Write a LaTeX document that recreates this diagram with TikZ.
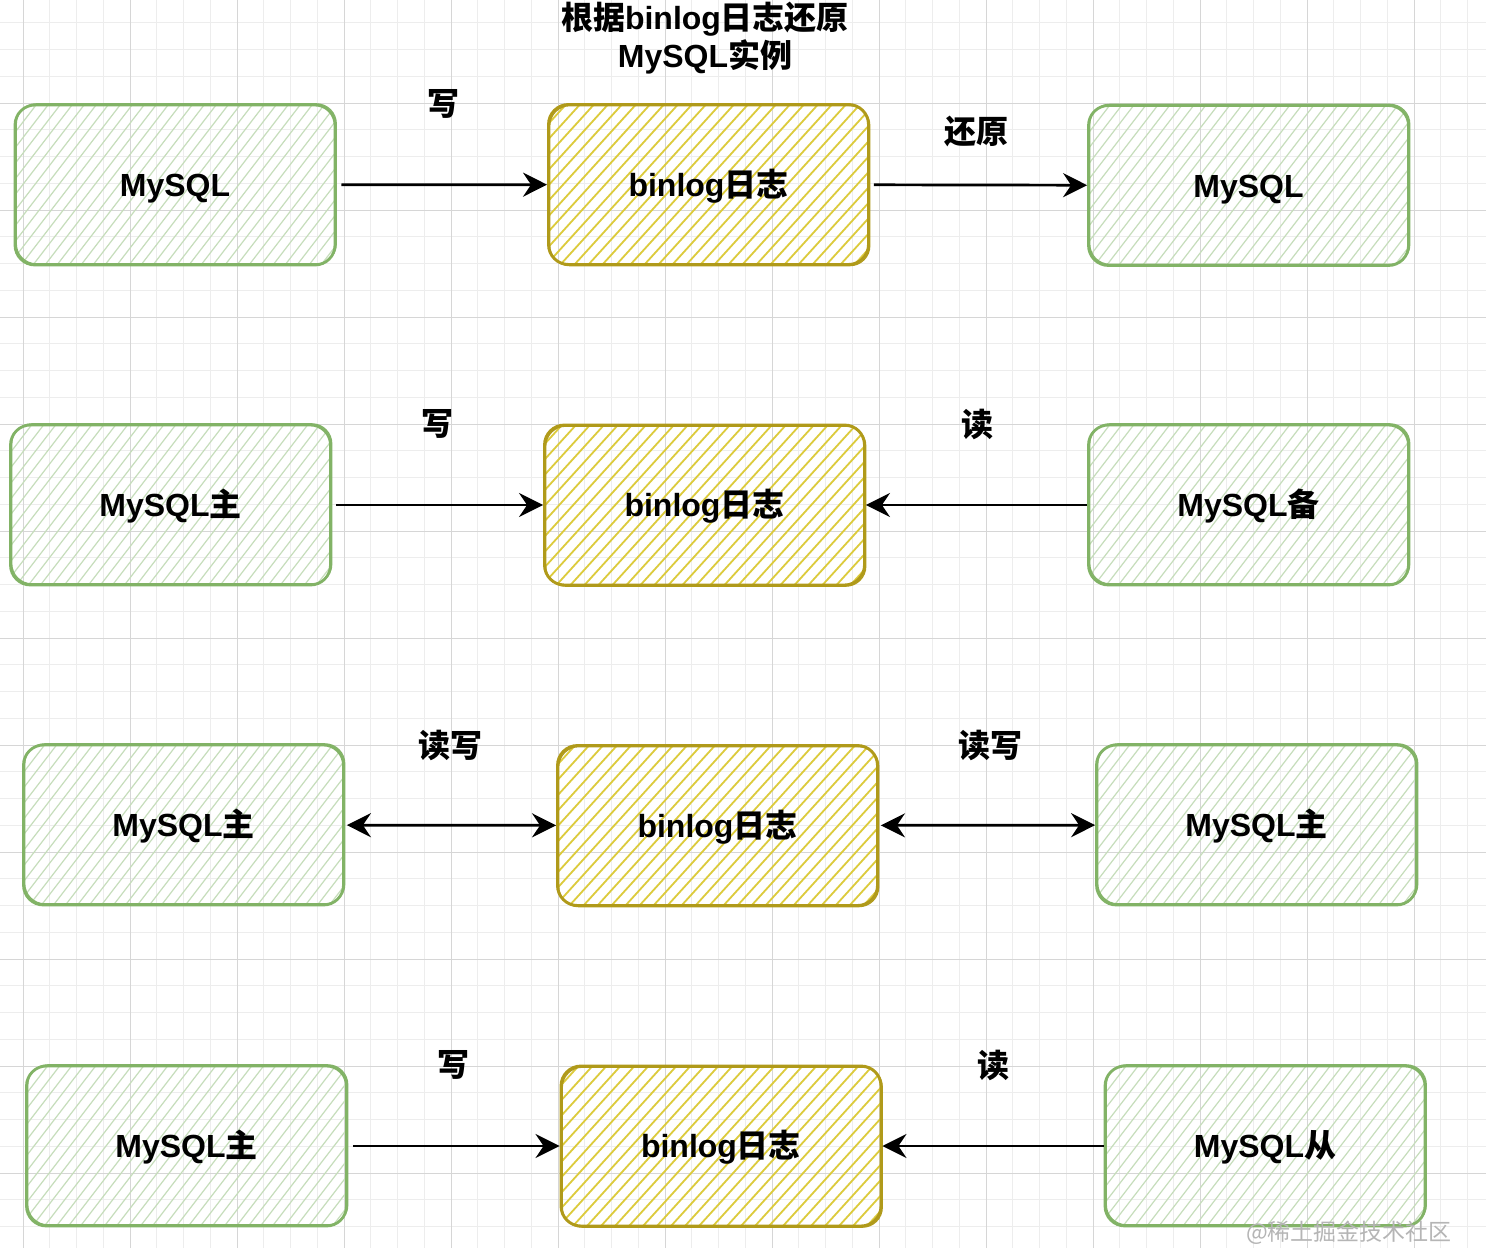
\documentclass[tikz,border=0pt]{standalone}
\usepackage{fontspec}
\setmainfont{Liberation Sans}
\newfontfamily\cjk{Noto Sans CJK SC}
\usetikzlibrary{arrows.meta}
\newcommand\zh[1]{{\cjk #1}}
\definecolor{gstroke}{HTML}{82B366}
\definecolor{ghatch}{HTML}{C6DDBB}
\definecolor{ystroke}{HTML}{B09A1A}
\definecolor{yhatch}{HTML}{DCCB3C}
\definecolor{gridmajor}{HTML}{D6D6D6}
\definecolor{gridminor}{HTML}{EDEDED}
\definecolor{wmark}{HTML}{B5B5B5}
\tikzset{
  gbox/.style={draw=gstroke, line width=2.8pt, rounded corners=20pt,
    minimum width=320pt, minimum height=160pt, inner sep=0pt,
    text height=26pt, text depth=3pt,
    font=\fontsize{32}{38}\selectfont\bfseries,
    postaction={draw=gstroke, line width=1.2pt, transform canvas={shift={(1.3pt,1.2pt)}}},
    path picture={
      \foreach \k in {0,...,42}{
        \draw[ghatch, line width=1.2pt]
          ([xshift={\k*12pt-150pt}]path picture bounding box.south west) -- ++(140,-182);
      }}},
  ybox/.style={draw=ystroke, line width=2.9pt, rounded corners=20pt,
    minimum width=320pt, minimum height=160pt, inner sep=0pt,
    text height=26pt, text depth=3pt,
    font=\fontsize{32}{38}\selectfont\bfseries,
    postaction={draw=ystroke, line width=1.2pt, transform canvas={shift={(1.3pt,-1.2pt)}}},
    path picture={
      \foreach \k in {0,...,38}{
        \draw[yhatch, line width=1.8pt]
          ([xshift={\k*14pt-170pt}]path picture bounding box.south west) -- ++(160,-176);
      }}},
  lbl/.style={font=\fontsize{32}{38}\selectfont\bfseries, inner sep=0pt, align=center},
  arr/.style={line width=2.7pt, -{Stealth[length=24pt,width=24pt,inset=8pt]}},
  darr/.style={line width=2.7pt, {Stealth[length=24pt,width=24pt,inset=8pt]}-{Stealth[length=24pt,width=24pt,inset=8pt]}},
}
\begin{document}
\begin{tikzpicture}[x=1pt,y=-1pt]
\useasboundingbox (0,0) rectangle (1486,1248);
\fill[white] (0,0) rectangle (1486,1248);
% grid
\foreach \i in {0,...,56}{
  \draw[gridminor, line width=1pt] ({-3.75+\i*26.75},0) -- ++(0,1248);
}
\foreach \i in {0,...,47}{
  \draw[gridminor, line width=1pt] (0,{-4+\i*26.75}) -- ++(1486,0);
}
\foreach \i in {0,...,13}{
  \draw[gridmajor, line width=1pt] ({23+\i*107},0) -- ++(0,1248);
}
\foreach \i in {0,...,12}{
  \draw[gridmajor, line width=1pt] (0,{-4+\i*107}) -- ++(1486,0);
}
% row 1
\node[gbox] (a1) at (175,185) {MySQL};
\node[ybox] (b1) at (708.5,184.5) {binlog\zh{日志}};
\node[gbox] (c1) at (1248.5,185.5) {MySQL};
% row 2
\node[gbox] (a2) at (170.5,505) {MySQL\zh{主}};
\node[ybox] (b2) at (704.5,505) {binlog\zh{日志}};
\node[gbox] (c2) at (1248.5,505) {MySQL\zh{备}};
% row 3
\node[gbox] (a3) at (183.5,825) {MySQL\zh{主}};
\node[ybox] (b3) at (717.5,825.5) {binlog\zh{日志}};
\node[gbox] (c3) at (1256.5,825) {MySQL\zh{主}};
% row 4
\node[gbox] (a4) at (186.5,1146) {MySQL\zh{主}};
\node[ybox] (b4) at (721,1146) {binlog\zh{日志}};
\node[gbox] (c4) at (1265,1146) {MySQL\zh{从}};
% labels
\node[lbl] (t1) at (705,38) {\zh{根据}binlog\zh{日志还原}\\MySQL\zh{实例}};
\node[lbl] (l1a) at (443,104) {\zh{写}};
\node[lbl] (l1b) at (976,131) {\zh{还原}};
\node[lbl] (l2a) at (437,424) {\zh{写}};
\node[lbl] (l2b) at (977,424) {\zh{读}};
\node[lbl] (l3a) at (450,745) {\zh{读写}};
\node[lbl] (l3b) at (990,745) {\zh{读写}};
\node[lbl] (l4a) at (453,1065) {\zh{写}};
\node[lbl] (l4b) at (993,1065) {\zh{读}};
% arrows
\draw[arr, shorten <=5pt] (a1) -- (b1);
\draw[arr, shorten <=4pt] (b1) -- (c1);
\draw[arr, shorten <=4pt] (a2) -- (b2);
\draw[arr] (c2) -- (b2);
\draw[darr, shorten <=2pt] (a3) -- (b3);
\draw[darr, shorten <=2pt] (b3) -- (c3);
\draw[arr, shorten <=5pt] (a4) -- (b4);
\draw[arr] (c4) -- (b4);
% watermark
\node[text=wmark, font=\cjk\fontsize{23}{26}\selectfont, inner sep=0pt] (wm) at (1349,1233) {@稀土掘金技术社区};
\end{tikzpicture}
\end{document}
